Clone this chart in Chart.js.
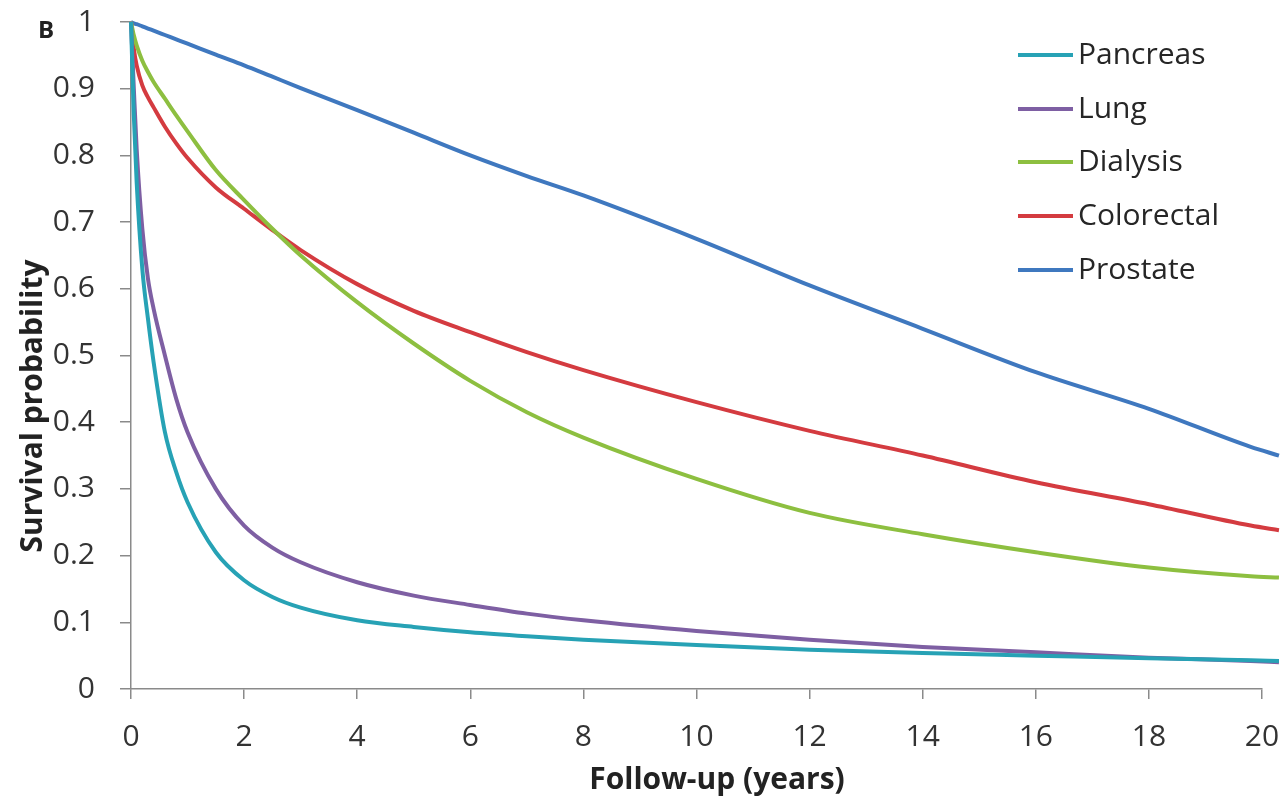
<!DOCTYPE html>
<html>
<head>
<meta charset="utf-8">
<script src="https://cdn.jsdelivr.net/npm/chart.js@4.4.1/dist/chart.umd.min.js"></script>
<style>
  body { margin: 0; background: #fff; }
  #wrap { position: relative; width: 1283px; height: 803px; }
  #legend { position: absolute; left: 0; top: 0; font-family: 'Open Sans', sans-serif; font-size: 30px; color: #262626; }
  .row { position: absolute; left: 1018px; height: 36px; line-height: 36px; white-space: nowrap; }
  .swatch { display: inline-block; width: 55px; height: 4px; vertical-align: middle; margin-right: 5px; position: relative; top: -1px; }
</style>
</head>
<body>
<div id="wrap">
  <canvas id="survival"></canvas>
  <div id="legend"></div>
</div>
<script>
// follow-up time points (years); the curves run a little past the last tick
var years = [0, 0.05, 0.1, 0.2, 0.3, 0.4, 0.6, 0.8, 1, 1.5, 2, 2.5, 3, 4, 5, 6, 7, 8, 10, 12, 14, 16, 18, 19.8, 20.3];

var seriesNames = ['Pancreas', 'Lung', 'Dialysis', 'Colorectal', 'Prostate'];
var seriesColors = ['#27a2b5', '#7e5fa3', '#8dbf40', '#d43b40', '#3f78bf'];

var pancreas   = [1, 0.86, 0.76, 0.63, 0.555, 0.49, 0.385, 0.325, 0.28, 0.205, 0.163, 0.138, 0.122, 0.103, 0.093, 0.085, 0.079, 0.074, 0.066, 0.059, 0.054, 0.05, 0.046, 0.043, 0.042];
var lung       = [1, 0.90, 0.81, 0.69, 0.615, 0.57, 0.50, 0.435, 0.385, 0.30, 0.245, 0.212, 0.19, 0.16, 0.14, 0.126, 0.113, 0.103, 0.087, 0.074, 0.063, 0.055, 0.047, 0.042, 0.04];
var dialysis   = [1, 0.98, 0.965, 0.942, 0.925, 0.91, 0.885, 0.86, 0.836, 0.778, 0.733, 0.69, 0.65, 0.58, 0.518, 0.462, 0.415, 0.377, 0.315, 0.264, 0.232, 0.205, 0.182, 0.169, 0.167];
var colorectal = [1, 0.96, 0.935, 0.905, 0.887, 0.872, 0.843, 0.818, 0.796, 0.752, 0.72, 0.688, 0.658, 0.607, 0.567, 0.535, 0.505, 0.478, 0.43, 0.387, 0.35, 0.31, 0.277, 0.245, 0.238];
var prostate   = [1, 0.998, 0.9967, 0.9935, 0.9902, 0.987, 0.9805, 0.974, 0.9675, 0.951, 0.935, 0.918, 0.901, 0.868, 0.834, 0.80, 0.769, 0.74, 0.675, 0.605, 0.54, 0.475, 0.42, 0.363, 0.35];

var xTickLabels = ['0', '2', '4', '6', '8', '10', '12', '14', '16', '18', '20'];
var yTickLabels = ['0', '0.1', '0.2', '0.3', '0.4', '0.5', '0.6', '0.7', '0.8', '0.9', '1'];

var allSeries = [pancreas, lung, dialysis, colorectal, prostate];

Chart.defaults.font.family = "'Open Sans', sans-serif";
Chart.defaults.color = '#333';

var datasets = allSeries.map(function(vals, k) {
    return {
        label: seriesNames[k],
        data: vals.map(function(v, i) { return { x: years[i], y: v }; }),
        borderColor: seriesColors[k],
        backgroundColor: seriesColors[k],
        borderWidth: 4,
        pointRadius: 0,
        cubicInterpolationMode: 'monotone',
        clip: false
    };
});

// extra labels: panel letter and axis titles
var labelsPlugin = {
    id: 'labels',
    afterDraw: function(chart) {
        var c = chart.ctx;
        c.save();
        c.fillStyle = '#222';
        c.textAlign = 'center';
        c.textBaseline = 'middle';
        c.font = "bold 24px 'Open Sans'";
        c.fillText('B', 46, 31);
        c.font = "bold 30px 'Open Sans'";
        c.fillText('Follow-up (years)', 717, 780);
        c.translate(33, 406);
        c.rotate(-Math.PI / 2);
        c.fillText('Survival probability', 0, 0);
        c.restore();
    }
};

new Chart(document.getElementById('survival'), {
    type: 'line',
    data: { datasets: datasets },
    options: {
        responsive: true,
        maintainAspectRatio: false,
        animation: false,
        layout: { padding: 0 },
        plugins: {
            legend: { display: false },
            tooltip: { enabled: false }
        },
        scales: {
            x: {
                type: 'linear',
                min: 0,
                max: 20,
                ticks: {
                    stepSize: 2,
                    padding: 20,
                    font: { size: 30 },
                    color: '#333',
                    callback: function(v, i) { return xTickLabels[i]; }
                },
                grid: { drawOnChartArea: false, drawTicks: true, tickLength: 10, color: '#8a8a8a', lineWidth: 1.5 },
                border: { display: true, color: '#8a8a8a', width: 1.5 },
                afterFit: function(scale) {
                    scale.height = 114;
                    scale.paddingLeft = 0;
                    scale.paddingRight = 21;
                }
            },
            y: {
                min: 0,
                max: 1,
                ticks: {
                    stepSize: 0.1,
                    padding: 25,
                    font: { size: 30 },
                    color: '#333',
                    callback: function(v, i) { return yTickLabels[i]; }
                },
                grid: { drawOnChartArea: false, drawTicks: true, tickLength: 11, color: '#8a8a8a', lineWidth: 1.5 },
                border: { display: true, color: '#8a8a8a', width: 1.5 },
                afterFit: function(scale) {
                    scale.width = 131;
                    scale.paddingTop = 22;
                    scale.paddingBottom = 0;
                }
            }
        }
    },
    plugins: [labelsPlugin]
});

// legend inside the plot, top right
var legend = document.getElementById('legend');
seriesNames.forEach(function(name, k) {
    var row = document.createElement('div');
    row.className = 'row';
    row.style.top = (53 + 53.7 * k - 18) + 'px';
    row.innerHTML = '<span class="swatch" style="background:' + seriesColors[k] + '"></span>' + name;
    legend.appendChild(row);
});
</script>
</body>
</html>
